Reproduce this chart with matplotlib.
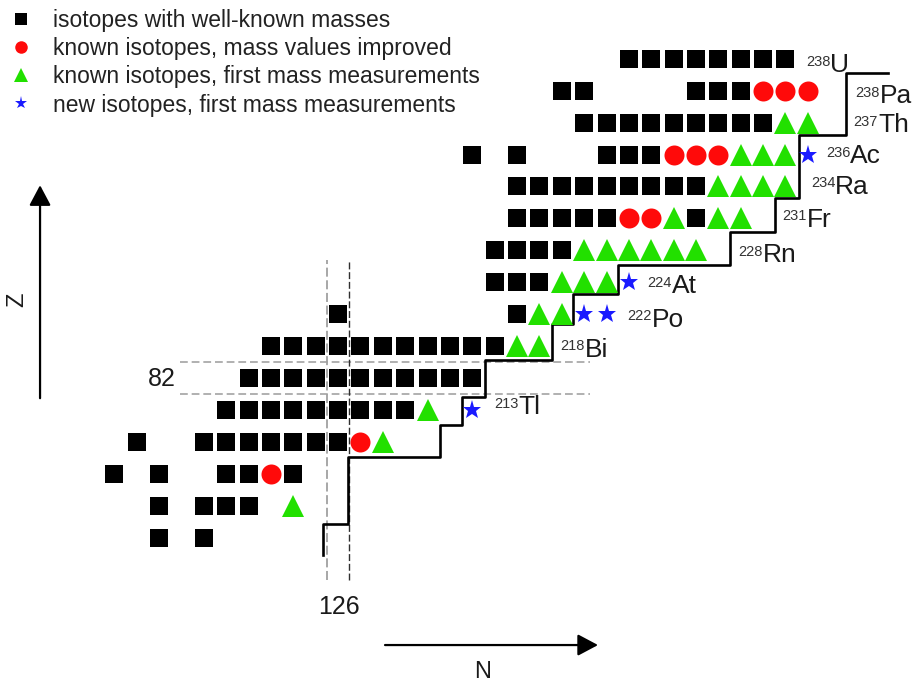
import matplotlib
matplotlib.use("Agg")
import matplotlib.pyplot as plt

plt.rcParams["font.family"] = ["Liberation Sans", "DejaVu Sans"]

# isotopes per proton number Z -> list of neutron numbers N
WELL_KNOWN = [
    (77, [118, 120]),
    (78, [118, 120, 121, 122]),
    (79, [116, 118, 121, 122, 124]),
    (80, [117, 120, 121, 122, 123, 124, 125, 126]),
    (81, list(range(121, 130))),
    (82, list(range(122, 133))),
    (83, list(range(123, 134))),
    (84, [126, 134]),
    (85, [133, 134, 135]),
    (86, [133, 134, 135, 136]),
    (87, [134, 135, 136, 137, 138, 142]),
    (88, list(range(134, 143))),
    (89, [132, 134, 138, 139, 140]),
    (90, list(range(137, 146))),
    (91, [136, 137, 142, 143, 144]),
    (92, list(range(139, 147))),
]
MASS_IMPROVED = [
    (79, [123]),
    (80, [127]),
    (87, [139, 140]),
    (89, [141, 142, 143]),
    (91, [145, 146, 147]),
]
FIRST_MASS = [
    (78, [124]),
    (80, [128]),
    (81, [130]),
    (83, [134, 135]),
    (84, [135, 136]),
    (85, [136, 137, 138]),
    (86, [137, 138, 139, 140, 141, 142]),
    (87, [141, 143, 144]),
    (88, [143, 144, 145, 146]),
    (89, [144, 145, 146]),
    (90, [146, 147]),
]
NEW_ISOTOPES = [
    (81, [132]),
    (84, [137, 138]),
    (85, [139]),
    (89, [147]),
]

# limit of known isotopes (staircase), N corners and Z levels
STEP_N = [125.34, 126.46, 130.56, 131.53, 132.57, 135.55, 136.52, 138.53,
          143.52, 145.53, 146.62, 148.71, 150.6]
STEP_Z = [76.46, 77.43, 79.54, 80.53, 81.41, 82.56, 83.69, 84.63,
          85.54, 86.58, 87.63, 89.61, 91.54]

# heaviest isotope labels: mass, symbol, label position (N, Z)
LABELS = [
    ("238", "U", 148.0, 91.58),
    ("238", "Pa", 150.23, 90.60),
    ("237", "Th", 150.14, 89.71),
    ("236", "Ac", 148.89, 88.72),
    ("234", "Ra", 148.22, 87.78),
    ("231", "Fr", 146.95, 86.74),
    ("228", "Rn", 145.0, 85.64),
    ("224", "At", 140.92, 84.65),
    ("222", "Po", 140.02, 83.61),
    ("218", "Bi", 137.04, 82.67),
    ("213", "Tl", 134.05, 80.87),
]

LEGEND = [
    ("isotopes with well-known masses", "s", "black", 8.6),
    ("known isotopes, mass values improved", "o", "#ff0a0a", 9.0),
    ("known isotopes, first mass measurements", "^", "#22e000", 9.5),
    ("new isotopes, first mass measurements", "*", "#1a1aff", 9.5),
]


def flatten(rows):
    ns, zs = [], []
    for z, n_list in rows:
        for n in n_list:
            ns.append(n)
            zs.append(z)
    return ns, zs


fig = plt.figure(figsize=(9.13, 6.84), dpi=100, facecolor="white")
ax = fig.add_axes([0, 0, 1, 1])
ax.set_xlim(110.89, 151.70)
ax.set_ylim(72.42, 93.84)
ax.axis("off")

# magic number guide lines
for z in (81.5, 82.5):
    ax.plot([118.94, 137.27], [z, z], color="#b0b0b0", lw=1.4, ls=(0, (4, 2)), zorder=1)
ax.plot([125.5, 125.5], [75.67, 85.7], color="#a0a0a0", lw=1.3, ls=(0, (5, 2)), zorder=1)
ax.plot([126.5, 126.5], [75.67, 85.7], color="#303030", lw=1.0, ls=(0, (5, 2)), zorder=1)

ax.plot(STEP_N, STEP_Z, drawstyle="steps-pre", color="black", lw=1.9, zorder=2)

styles = [
    (WELL_KNOWN, "s", "black", 13.0),
    (MASS_IMPROVED, "o", "#ff0a0a", 14.4),
    (FIRST_MASS, "^", "#22e000", 15.8),
    (NEW_ISOTOPES, "*", "#1a1aff", 14.2),
]
for rows, marker, color, size in styles:
    ns, zs = flatten(rows)
    ax.plot(ns, zs, ls="none", marker=marker, color=color, ms=size, mew=0, zorder=3)

for mass, sym, n, z in LABELS:
    t = ax.text(n, z, sym, fontsize=19, color="#1a1a1a", ha="left", va="baseline")
    ax.annotate(mass, xy=(0, 0.93), xycoords=t, fontsize=10.5, color="#333333",
                ha="right", va="top")

ax.text(118.13, 81.97, "82", fontsize=18, color="#1a1a1a", ha="center", va="center")
ax.text(126.04, 74.83, "126", fontsize=18, color="#1a1a1a", ha="center", va="center")

# axis arrows
arrow = dict(arrowstyle="-|>,head_length=0.62,head_width=0.33", color="black",
             lw=1.6, mutation_scale=20, shrinkA=0, shrinkB=0)
ax.annotate("", xy=(112.68, 88.04), xytext=(112.68, 81.37), arrowprops=arrow)
ax.annotate("", xy=(137.62, 73.64), xytext=(128.1, 73.64), arrowprops=arrow)
ax.text(111.65, 84.44, "Z", fontsize=17, rotation=90, color="#1a1a1a",
        ha="center", va="center")
ax.text(132.48, 72.79, "N", fontsize=17, color="#1a1a1a", ha="center", va="center")

# legend drawn in pixel positions of the figure
W, H = 913.0, 684.0
marker_rows = [19, 47, 75, 103]
text_rows = [26.7, 55, 83.3, 111.7]
for (label, marker, color, size), my, ty in zip(LEGEND, marker_rows, text_rows):
    ax.plot([21 / W], [1 - my / H], transform=fig.transFigure, marker=marker,
            color=color, ms=size, mew=0, ls="none")
    fig.text(53 / W, 1 - ty / H, label, fontsize=16.5, color="#222222",
             ha="left", va="baseline")

fig.savefig("out.png", dpi=100, facecolor="white")
